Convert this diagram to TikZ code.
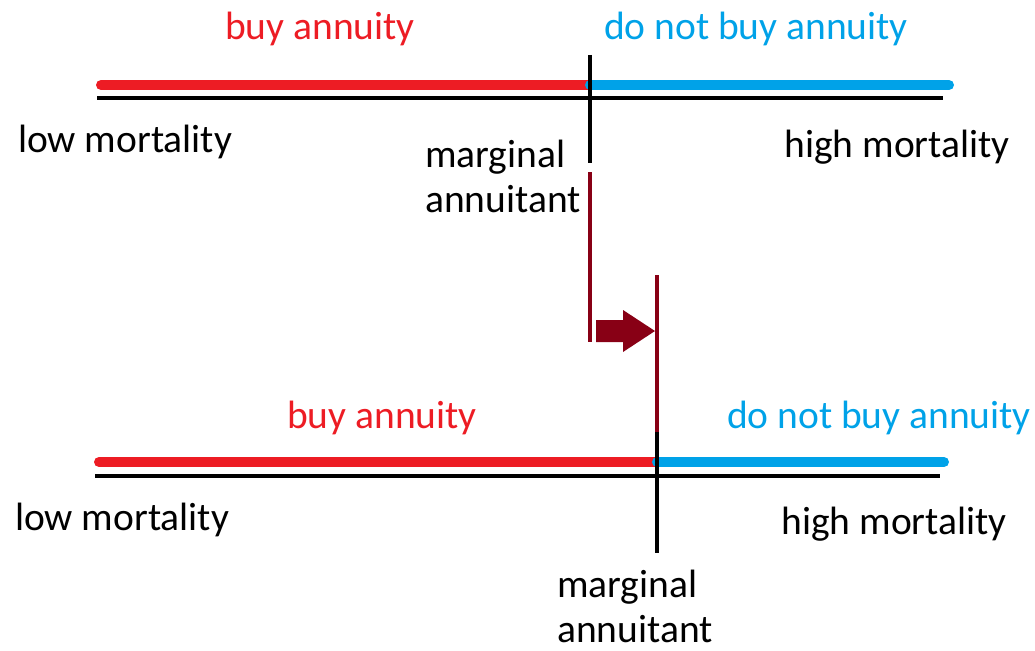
\documentclass[tikz,border=0pt]{standalone}
\usepackage{fontspec}
\setmainfont{Carlito}
\definecolor{cred}{RGB}{237,28,36}
\definecolor{cblue}{RGB}{0,162,232}
\definecolor{cdark}{RGB}{136,0,21}
\begin{document}
\begin{tikzpicture}[x=1pt,y=-1pt,
  lbl/.style={font=\fontsize{39.5}{44}\selectfont, inner sep=0pt, anchor=base},
  redbar/.style={draw=cred, line width=10pt, line cap=round},
  bluebar/.style={draw=cblue, line width=10pt, line cap=round},
  axisline/.style={draw=black, line width=4pt},
  markerline/.style={draw=black, line width=4pt},
  shiftline/.style={draw=cdark, line width=4pt}]
\useasboundingbox (0,0) rectangle (1035,650);
% top
\coordinate (tRs) at (101,85);
\coordinate (tM) at (590,85);
\coordinate (tBe) at (949,85);
\coordinate (tAs) at (97,98);
\coordinate (tAe) at (943,98);
\coordinate (tVs) at (590,55);
\coordinate (tVe) at (590,163);
\coordinate (dVs) at (590,172);
\coordinate (dVe) at (590,342);
\draw[redbar] (tRs) -- (tM);
\draw[bluebar] (tM) -- (tBe);
\draw[axisline] (tAs) -- (tAe);
\draw[markerline] (tVs) -- (tVe);
\draw[shiftline] (dVs) -- (dVe);
\node[lbl, text=cred] (tbuy) at (320,40) {buy annuity};
\node[lbl, text=cblue] (tnot) at (756,40) {do not buy annuity};
\node[lbl] (tlow) at (125,152) {low mortality};
\node[lbl] (thigh) at (897,157) {high mortality};
\node[lbl, anchor=base west] (tm1) at (425,167) {marginal};
\node[lbl, anchor=base west] (tm2) at (425,212) {annuitant};
% arrow
\fill[cdark] (596,320) -- (623,320) -- (623,310) -- (655,331) -- (623,352) -- (623,342) -- (596,342) -- cycle;
% bottom
\coordinate (bRs) at (99,462);
\coordinate (bM) at (657,462);
\coordinate (bBe) at (944,462);
\coordinate (bAs) at (95,476);
\coordinate (bAe) at (940,476);
\coordinate (bDs) at (657,275);
\coordinate (bDe) at (657,432);
\coordinate (bVe) at (657,553);
\draw[redbar] (bRs) -- (bM);
\draw[bluebar] (bM) -- (bBe);
\draw[axisline] (bAs) -- (bAe);
\draw[shiftline] (bDs) -- (bDe);
\draw[markerline] (bDe) -- (bVe);
\node[lbl, text=cred] (bbuy) at (382,428) {buy annuity};
\node[lbl, text=cblue] (bnot) at (879,428) {do not buy annuity};
\node[lbl] (blow) at (122,530) {low mortality};
\node[lbl] (bhigh) at (894,534) {high mortality};
\node[lbl, anchor=base west] (bm1) at (557,597) {marginal};
\node[lbl, anchor=base west] (bm2) at (557,642) {annuitant};
\end{tikzpicture}
\end{document}
